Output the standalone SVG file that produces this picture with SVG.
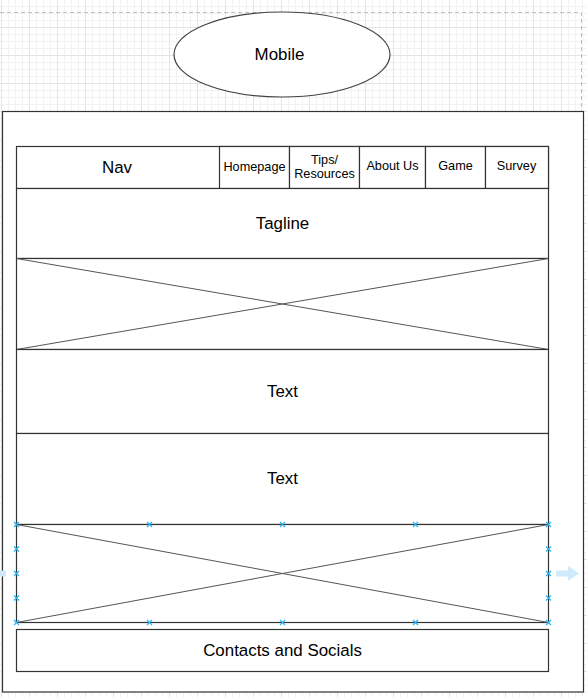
<svg xmlns="http://www.w3.org/2000/svg" width="587" height="697" viewBox="0 0 587 697">
<defs>
<pattern id="grid" patternUnits="userSpaceOnUse" x="1" y="-1" width="28" height="28">
<rect width="28" height="28" fill="#ffffff"/>
<path d="M7.5 0V28M14.5 0V28M21.5 0V28M0 7.5H28M0 14.5H28M0 21.5H28" stroke="#f2f2f2" stroke-width="1" fill="none"/>
<path d="M0.5 0V28M0 0.5H28" stroke="#e4e4e4" stroke-width="1" fill="none"/>
</pattern>
<g id="h">
<path d="M-2.5 -2.5L2.5 2.5M-2.5 2.5L2.5 -2.5" stroke="#29b6f2" stroke-width="1.3"/>
</g>
</defs>
<style>
.box{fill:#ffffff;stroke:#333333;stroke-width:1.2}
.cell{fill:#ffffff;stroke:#333333;stroke-width:1.2}
.x{stroke:#555555;stroke-width:1;fill:none}
.t{font-family:"Liberation Sans",Arial,sans-serif;font-size:16.9px;fill:#000000;text-anchor:middle;dominant-baseline:central}
.s{font-family:"Liberation Sans",Arial,sans-serif;font-size:12.7px;fill:#000000;text-anchor:middle;dominant-baseline:central}
</style>
<rect width="587" height="697" fill="url(#grid)"/>
<path d="M0 12.5H581.5V111" stroke="#bfbfbf" stroke-width="1" stroke-dasharray="4 3" fill="none"/>

<g id="mobile">
<ellipse cx="282" cy="54.5" rx="108" ry="42.5" fill="#ffffff" stroke="#444444" stroke-width="1.2"/>
<text class="t" x="279.5" y="54.5">Mobile</text>
</g>

<g id="page">
<rect class="box" x="2.5" y="111.5" width="581" height="580.5"/>
</g>

<g id="nav">
<rect class="cell" x="16.5" y="146.5" width="532" height="42"/>
<text class="t" x="117" y="167">Nav</text>
</g>
<g id="homepage">
<rect class="cell" x="219.5" y="146.5" width="70" height="42"/>
<text class="s" x="254.5" y="167">Homepage</text>
</g>
<g id="tips">
<rect class="cell" x="289.5" y="146.5" width="70" height="42"/>
<text class="s" x="324.5" y="160">Tips/</text>
<text class="s" x="324.5" y="174">Resources</text>
</g>
<g id="about">
<rect class="cell" x="359.5" y="146.5" width="66" height="42"/>
<text class="s" x="392.5" y="166">About Us</text>
</g>
<g id="game">
<rect class="cell" x="425.5" y="146.5" width="60" height="42"/>
<text class="s" x="455.5" y="166">Game</text>
</g>
<g id="survey">
<rect class="cell" x="485.5" y="146.5" width="63" height="42"/>
<text class="s" x="516.5" y="166">Survey</text>
</g>

<g id="tagline">
<rect class="box" x="16.5" y="188.5" width="532" height="70"/>
<text class="t" x="282.5" y="223">Tagline</text>
</g>

<g id="image1">
<rect class="box" x="16.5" y="258.5" width="532" height="91"/>
<path class="x" d="M16.5 258.5L548.5 349.5M16.5 349.5L548.5 258.5"/>
</g>

<g id="text1">
<rect class="box" x="16.5" y="349.5" width="532" height="84"/>
<text class="t" x="282.5" y="391">Text</text>
</g>

<g id="text2">
<rect class="box" x="16.5" y="433.5" width="532" height="91"/>
<text class="t" x="282.5" y="478">Text</text>
</g>

<g id="image2">
<rect class="box" x="16.5" y="524.5" width="532" height="98"/>
<path class="x" d="M16.5 524.5L548.5 622.5M16.5 622.5L548.5 524.5"/>
</g>

<g id="contacts">
<rect class="box" x="16.5" y="629.5" width="532" height="42"/>
<text class="t" x="282.5" y="650.5">Contacts and Socials</text>
</g>

<g id="connectors"></g>

<g id="selection">
<use href="#h" x="16.5" y="524.5"/>
<use href="#h" x="149.5" y="524.5"/>
<use href="#h" x="282.5" y="524.5"/>
<use href="#h" x="415.5" y="524.5"/>
<use href="#h" x="548.5" y="524.5"/>
<use href="#h" x="16.5" y="622.5"/>
<use href="#h" x="149.5" y="622.5"/>
<use href="#h" x="282.5" y="622.5"/>
<use href="#h" x="415.5" y="622.5"/>
<use href="#h" x="548.5" y="622.5"/>
<use href="#h" x="16.5" y="549"/>
<use href="#h" x="16.5" y="573.5"/>
<use href="#h" x="16.5" y="598"/>
<use href="#h" x="548.5" y="549"/>
<use href="#h" x="548.5" y="573.5"/>
<use href="#h" x="548.5" y="598"/>
<path d="M556 570.5H568V566L579 573.5L568 581V576.5H556Z" fill="#cfeafb"/>
<rect x="0" y="570.5" width="6" height="6" fill="#cfeafb"/>
</g>
</svg>
